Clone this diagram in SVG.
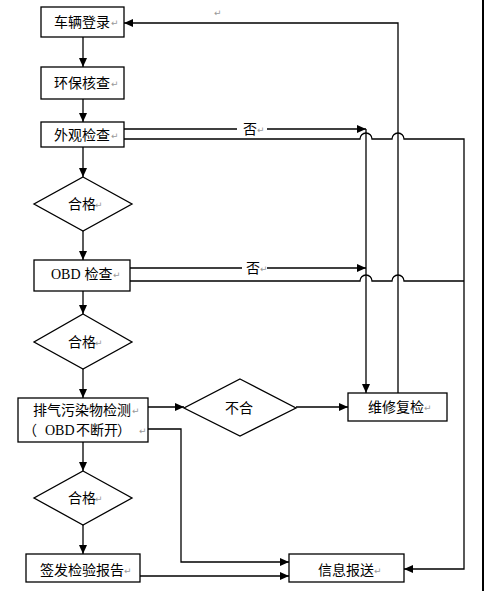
<svg xmlns="http://www.w3.org/2000/svg" width="484" height="591" viewBox="0 0 484 591">
<style>
.box{fill:#fff;stroke:#000;stroke-width:1.3}
.ln{fill:none;stroke:#000;stroke-width:1.3}
.t{font-family:"Noto Sans CJK SC","Noto Sans",sans-serif;font-size:14px;fill:#000}
.s{font-family:"Liberation Serif",serif;font-size:14px;fill:#000}
.r{font-family:"DejaVu Sans",sans-serif;font-size:9px;fill:#999}
</style>
<defs>
<marker id="ah" markerUnits="userSpaceOnUse" markerWidth="10" markerHeight="8" refX="9" refY="4" orient="auto">
<path d="M0,0 L9,4 L0,8 Z" fill="#000"/>
</marker>
</defs>
<rect x="0" y="0" width="484" height="591" fill="#fff"/>
<rect x="482" y="0" width="2" height="591" fill="#000"/>
<text class="r" x="214" y="16">↵</text>

<g id="connectors">
<line class="ln" x1="83" y1="37" x2="83" y2="67" marker-end="url(#ah)"/>
<line class="ln" x1="83" y1="99" x2="83" y2="122" marker-end="url(#ah)"/>
<line class="ln" x1="83" y1="147" x2="83" y2="177" marker-end="url(#ah)"/>
<line class="ln" x1="83" y1="231" x2="83" y2="260" marker-end="url(#ah)"/>
<line class="ln" x1="83" y1="285" x2="83" y2="314" marker-end="url(#ah)"/>
<line class="ln" x1="83" y1="368" x2="83" y2="398" marker-end="url(#ah)"/>
<line class="ln" x1="83" y1="442" x2="83" y2="471" marker-end="url(#ah)"/>
<line class="ln" x1="83" y1="525" x2="83" y2="554" marker-end="url(#ah)"/>
<line class="ln" x1="124" y1="129" x2="237" y2="129"/>
<line class="ln" x1="267" y1="129" x2="366" y2="129" marker-end="url(#ah)"/>
<line class="ln" x1="130" y1="268" x2="242" y2="268"/>
<line class="ln" x1="267" y1="268" x2="366" y2="268" marker-end="url(#ah)"/>
<path class="ln" d="M124,139 H360 A6,6 0 0 1 372,139 H392 A6,6 0 0 1 404,139 H464 V569 H404" marker-end="url(#ah)"/>
<path class="ln" d="M130,281 H360 A6,6 0 0 1 372,281 H392 A6,6 0 0 1 404,281 H464"/>
<line class="ln" x1="366" y1="129" x2="366" y2="393" marker-end="url(#ah)"/>
<path class="ln" d="M398,393 V23 H124" marker-end="url(#ah)"/>
<line class="ln" x1="148" y1="407" x2="184" y2="407" marker-end="url(#ah)"/>
<line class="ln" x1="296" y1="407" x2="348" y2="407" marker-end="url(#ah)"/>
<path class="ln" d="M148,429 H181 V562 H289" marker-end="url(#ah)"/>
<line class="ln" x1="140" y1="576" x2="289" y2="576" marker-end="url(#ah)"/>
<text class="t" x="243" y="134">否</text><text class="r" x="257" y="133">↵</text>
<text class="t" x="246" y="273">否</text><text class="r" x="260" y="272">↵</text>
</g>

<g id="n1"><rect class="box" x="41" y="7" width="83" height="30"/><text class="t" x="54" y="27">车辆登录</text><text class="r" x="111" y="26">↵</text></g>
<g id="n2"><rect class="box" x="41" y="67" width="83" height="32"/><text class="t" x="54" y="88">环保核查</text><text class="r" x="111" y="87">↵</text></g>
<g id="n3"><rect class="box" x="41" y="122" width="83" height="25"/><text class="t" x="54" y="140">外观检查</text><text class="r" x="111" y="139">↵</text></g>
<g id="d1"><polygon class="box" points="83,177 132,204 83,231 34,204"/><text class="t" x="68" y="209">合格</text><text class="r" x="95" y="208">↵</text></g>
<g id="n4"><rect class="box" x="34" y="260" width="96" height="31"/><text x="51" y="279"><tspan class="s">OBD</tspan><tspan class="t" dx="4">检查</tspan></text><text class="r" x="113" y="278">↵</text></g>
<g id="d2"><polygon class="box" points="83,314 132,342 83,369 34,342"/><text class="t" x="68" y="347">合格</text><text class="r" x="95" y="346">↵</text></g>
<g id="n5"><rect class="box" x="18" y="398" width="130" height="44"/><text class="t" x="33" y="415">排气污染物检测</text><text class="r" x="132" y="414">↵</text><text y="435"><tspan class="t" x="23">（</tspan><tspan class="s" x="45">OBD</tspan><tspan class="t" x="76">不断开</tspan><tspan class="t" x="117">）</tspan></text><text class="r" x="139" y="434">↵</text></g>
<g id="d4"><polygon class="box" points="240,379 296,408 240,436 184,408"/><text class="t" x="225" y="413">不合</text></g>
<g id="n6"><rect class="box" x="348" y="393" width="99" height="28"/><text class="t" x="368" y="412">维修复检</text><text class="r" x="424" y="411">↵</text></g>
<g id="d3"><polygon class="box" points="83,471 132,498 83,525 34,498"/><text class="t" x="68" y="503">合格</text><text class="r" x="95" y="502">↵</text></g>
<g id="n7"><rect class="box" x="26" y="554" width="114" height="28"/><text class="t" x="40" y="575">签发检验报告</text><text class="r" x="124" y="574">↵</text></g>
<g id="n8"><rect class="box" x="289" y="554" width="115" height="28"/><text class="t" x="318" y="575">信息报送</text><text class="r" x="374" y="574">↵</text></g>
</svg>
